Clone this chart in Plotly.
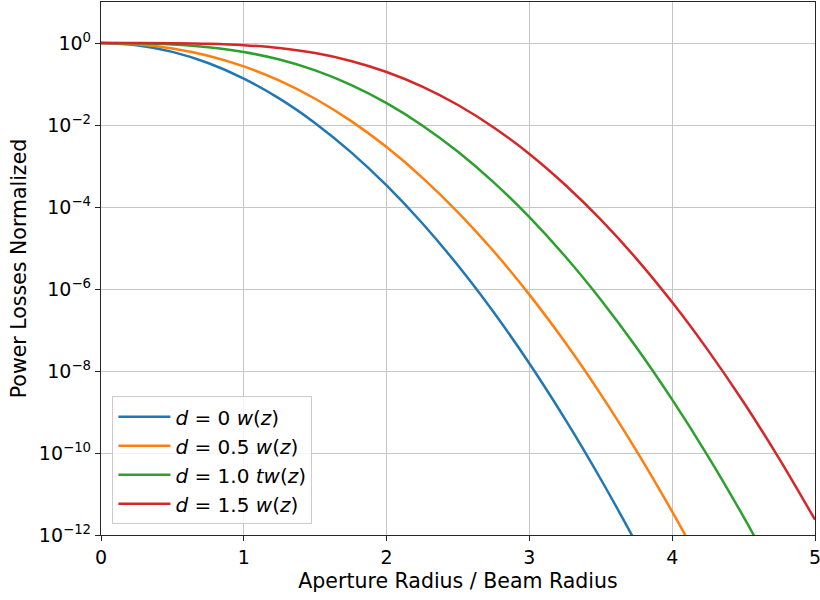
import plotly.graph_objects as go

# Aperture radius in units of the beam radius w(z)
aperture_ratio = [0.0, 0.25, 0.5, 0.75, 1.0, 1.25, 1.5, 1.75, 2.0, 2.25, 2.5,
                  2.75, 3.0, 3.25, 3.5, 3.75, 4.0, 4.25, 4.5, 4.75, 5.0]

# Normalized power lost outside the aperture, one list per beam offset d
loss_d00 = [1.0, 0.8825, 0.6065, 0.3247, 0.1353, 0.04394, 0.01111, 2.187e-3,
            3.355e-4, 4.008e-5, 3.727e-6, 2.699e-7, 1.523e-8, 6.692e-10,
            2.289e-11, 6.10e-13, 1.27e-14, None, None, None, None]
loss_d05 = [1.0, 0.9265, 0.7329, 0.4880, 0.2690, 0.1209, 0.04372, 0.01262,
            2.890e-3, 5.225e-4, 7.436e-5, 8.31e-6, 7.29e-7, 5.00e-8,
            2.69e-9, 1.13e-10, 3.71e-12, 9.5e-14, None, None, None]
loss_d10 = [1.0, 0.9821, 0.9181, 0.7908, 0.6035, 0.3940, 0.2144, 0.09527,
            0.03414, 9.77e-3, 2.22e-3, 3.99e-4, 5.65e-5, 6.28e-6,
            5.47e-7, 3.74e-8, 2.00e-9, 8.42e-11, 2.76e-12, 7.05e-14, None]
loss_d15 = [1.0, 0.9983, 0.9892, 0.9592, 0.8867, 0.7539, 0.5675, 0.3654,
            0.1964, 0.0864, 0.0307, 8.72e-3, 1.97e-3, 3.49e-4,
            4.91e-5, 5.45e-6, 4.74e-7, 3.23e-8, 1.73e-9, 7.21e-11, 2.36e-12]

series_labels = [
    "<i>d</i> = 0 <i>w</i>(<i>z</i>)",
    "<i>d</i> = 0.5 <i>w</i>(<i>z</i>)",
    "<i>d</i> = 1.0 <i>tw</i>(<i>z</i>)",
    "<i>d</i> = 1.5 <i>w</i>(<i>z</i>)",
]
series_colors = ["#1f77b4", "#ff7f0e", "#2ca02c", "#d62728"]

x_tick_values = [0, 1, 2, 3, 4, 5]
y_tick_values = [1e0, 1e-2, 1e-4, 1e-6, 1e-8, 1e-10, 1e-12]
y_tick_text = ["10<sup>0</sup>", "10<sup>−2</sup>", "10<sup>−4</sup>",
               "10<sup>−6</sup>", "10<sup>−8</sup>", "10<sup>−10</sup>",
               "10<sup>−12</sup>"]

FONT = "DejaVu Sans"
GRID = "#c6c6c6"
SPINE = "#262626"

fig = go.Figure()
for i, (values, label, color) in enumerate(
        zip([loss_d00, loss_d05, loss_d10, loss_d15], series_labels, series_colors)):
    fig.add_trace(go.Scatter(
        x=aperture_ratio, y=values, mode="lines", name=label,
        legendgroup=f"g{i}",
        line=dict(color=color, width=2.5, shape="spline", smoothing=1.0),
    ))

axis_common = dict(
    showline=True, linecolor=SPINE, linewidth=1.3, mirror=True,
    showgrid=True, gridcolor=GRID, gridwidth=1.3,
    ticks="outside", ticklen=5, tickwidth=1.3, tickcolor=SPINE,
    tickfont=dict(family=FONT, size=19, color="black"),
    ticklabeloverflow="allow", automargin=False,
    zeroline=False,
)

fig.update_layout(
    width=820, height=600,
    margin=dict(l=101, r=5, t=2, b=65),
    paper_bgcolor="white", plot_bgcolor="white",
    font=dict(family=FONT, size=19, color="black"),
    xaxis=dict(
        range=[0, 5], tickmode="array", tickvals=x_tick_values,
        ticktext=[str(v) for v in x_tick_values],
        title=dict(text="Aperture Radius / Beam Radius",
                   font=dict(family=FONT, size=20.5), standoff=6),
        **axis_common,
    ),
    yaxis=dict(
        type="log", range=[-12, 1], tickmode="array",
        tickvals=y_tick_values, ticktext=y_tick_text,
        title=dict(text="Power Losses Normalized",
                   font=dict(family=FONT, size=20.5), standoff=6),
        **axis_common,
    ),
    legend=dict(
        x=0.016, y=0.02, xanchor="left", yanchor="bottom",
        bgcolor="rgba(255,255,255,0.8)", bordercolor="#cccccc", borderwidth=1,
        font=dict(family=FONT, size=20, color="black"),
        tracegroupgap=0, itemwidth=52,
    ),
    showlegend=True,
)

fig.write_html("out.html")
